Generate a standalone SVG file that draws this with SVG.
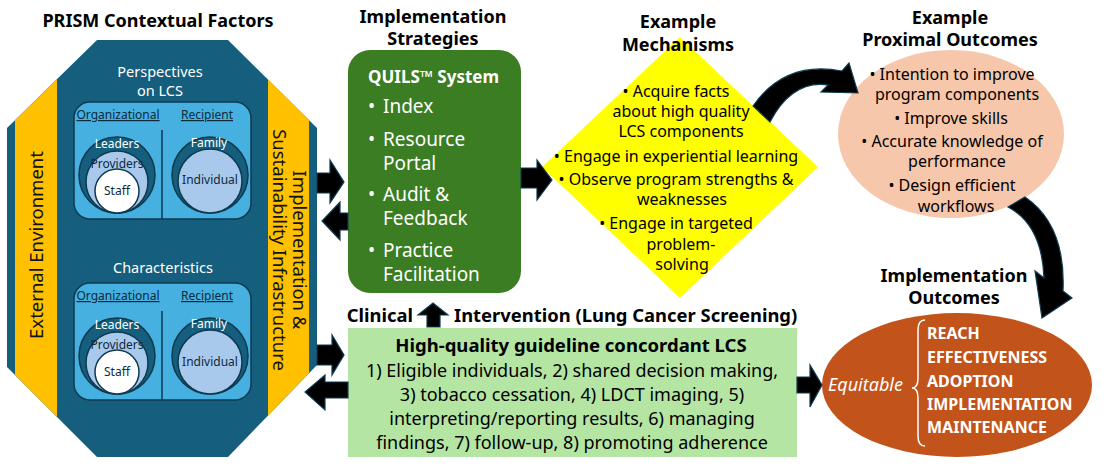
<svg xmlns="http://www.w3.org/2000/svg" width="1110" height="474" viewBox="0 0 1110 474">
<style>
text{font-family:"Noto Sans","Liberation Sans",sans-serif;}
.t{font-weight:bold;font-size:18px;fill:#000;text-anchor:middle;}
.w{fill:#fff;}
.sm{font-size:12px;text-anchor:middle;}
.dk{fill:#0d2a3a;}
.u{text-decoration:underline;}
.hd{font-size:14.5px;fill:#fff;text-anchor:middle;}
.rot{font-size:18.5px;fill:#111;text-anchor:middle;}
.box{fill:#46b0e1;stroke:#0e3a50;stroke-width:1.5;}
.cd{fill:#165e7d;stroke:#0e3a50;stroke-width:1.5;}
.cl{fill:#a9c9ec;stroke:#0e3a50;stroke-width:1.5;}
.cw{fill:#fff;stroke:#0e3a50;stroke-width:1.5;}
.div{stroke:#0e3a50;stroke-width:1.5;}
.gi{font-size:19px;fill:#fff;}
.mt{font-size:16px;fill:#000;text-anchor:middle;}
.lt{font-size:18px;fill:#000;text-anchor:middle;}
.oi{font-size:16px;font-weight:bold;fill:#fff;}
.arrow{fill:#000;stroke:#0f3d52;stroke-width:1.2;stroke-linejoin:miter;}
</style>
<defs>
<clipPath id="oct"><polygon points="97,40 228,40 317,128 317,365 228,457 97,457 7,367 7,128"/></clipPath>
</defs>

<rect width="1110" height="474" fill="#fff"/>

<g id="prism">
<text class="t" x="158" y="27">PRISM Contextual Factors</text>
<polygon points="97,40 228,40 317,128 317,365 228,457 97,457 7,367 7,128" fill="#165e7d"/>
<g clip-path="url(#oct)">
<rect x="15" y="0" width="42" height="474" fill="#ffc000"/>
<rect x="268" y="0" width="41" height="474" fill="#ffc000"/>
</g>
<text class="rot" transform="translate(43,245) rotate(-90)">External Environment</text>
<text class="rot" transform="translate(273,250) rotate(90)"><tspan x="0" y="-20">Implementation &amp;</tspan><tspan x="0" y="0">Sustainability Infrastructure</tspan></text>
</g>

<g id="perspectives">
<text class="hd" x="160" y="77" font-size="14">Perspectives</text>
<text class="hd" x="160" y="96" font-size="14">on LCS</text>
<rect class="box" x="74" y="102" width="177" height="117" rx="16"/>
<line class="div" x1="162" y1="130" x2="162" y2="219"/>
<text class="sm dk u" x="118" y="119">Organizational</text>
<text class="sm dk u" x="207" y="119">Recipient</text>
<circle class="cd" cx="117" cy="175" r="38"/>
<circle class="cl" cx="117" cy="182" r="31"/>
<circle class="cw" cx="117" cy="191" r="22"/>
<circle class="cd" cx="210" cy="175" r="38"/>
<circle class="cl" cx="210" cy="181" r="32"/>
<text class="sm w" x="117" y="148">Leaders</text>
<text class="sm dk" x="117" y="168">Providers</text>
<text class="sm dk" x="117" y="195">Staff</text>
<text class="sm w" x="209" y="147">Family</text>
<text class="sm dk" x="210" y="184">Individual</text>
</g>

<g id="characteristics">
<text class="hd" x="163" y="273">Characteristics</text>
<rect class="box" x="74" y="283" width="177" height="117" rx="16"/>
<line class="div" x1="162" y1="311" x2="162" y2="400"/>
<text class="sm dk u" x="118" y="300">Organizational</text>
<text class="sm dk u" x="207" y="300">Recipient</text>
<circle class="cd" cx="117" cy="356" r="38"/>
<circle class="cl" cx="117" cy="363" r="31"/>
<circle class="cw" cx="117" cy="372" r="22"/>
<circle class="cd" cx="210" cy="356" r="38"/>
<circle class="cl" cx="210" cy="362" r="32"/>
<text class="sm w" x="117" y="329">Leaders</text>
<text class="sm dk" x="117" y="349">Providers</text>
<text class="sm dk" x="117" y="376">Staff</text>
<text class="sm w" x="209" y="328">Family</text>
<text class="sm dk" x="210" y="366">Individual</text>
</g>

<g id="strategies">
<text class="t" x="433" y="23">Implementation</text>
<text class="t" x="433" y="45">Strategies</text>
<rect x="348" y="50" width="173" height="243" rx="22" fill="#3b7d23"/>
<text x="368" y="83" font-size="17" font-weight="bold" fill="#fff">QUILS™ System</text>
<g class="gi">
<text x="368" y="113">•</text><text x="383" y="113">Index</text>
<text x="368" y="146">•</text><text x="383" y="146">Resource</text>
<text x="383" y="170">Portal</text>
<text x="368" y="201">•</text><text x="383" y="201">Audit &amp;</text>
<text x="383" y="225">Feedback</text>
<text x="368" y="257">•</text><text x="383" y="257">Practice</text>
<text x="383" y="281">Facilitation</text>
</g>
</g>

<g id="mechanisms">
<polygon points="680,37 818,167 680,298 542,167" fill="#ffff00"/>
<text class="t" x="678" y="28">Example</text>
<text class="t" x="678" y="51">Mechanisms</text>
<text class="mt" x="676" y="97">• Acquire facts</text>
<text class="mt" x="681" y="117">about high quality</text>
<text class="mt" x="681" y="137">LCS components</text>
<text class="mt" x="676" y="162">• Engage in experiential learning</text>
<text class="mt" x="676" y="185">• Observe program strengths &amp;</text>
<text class="mt" x="682" y="205">weaknesses</text>
<text class="mt" x="676" y="229">• Engage in targeted</text>
<text class="mt" x="681" y="250">problem-</text>
<text class="mt" x="682" y="270">solving</text>
</g>

<g id="proximal">
<text class="t" x="950" y="24">Example</text>
<text class="t" x="950" y="46">Proximal Outcomes</text>
<ellipse cx="951" cy="134" rx="113" ry="84" fill="#f7c7ab"/>
<text class="mt" x="952" y="80">• Intention to improve</text>
<text class="mt" x="957" y="100">program components</text>
<text class="mt" x="951" y="124">• Improve skills</text>
<text class="mt" x="952" y="147">• Accurate knowledge of</text>
<text class="mt" x="957" y="167">performance</text>
<text class="mt" x="952" y="191">• Design efficient</text>
<text class="mt" x="956" y="212">workflows</text>
</g>

<g id="intervention">
<text x="413" y="322" font-size="18.4" font-weight="bold" text-anchor="end">Clinical</text>
<text x="454" y="322" font-size="18.4" font-weight="bold">Intervention (Lung Cancer Screening)</text>
<rect x="348" y="328" width="449" height="129" fill="#b5e5a3"/>
<text x="571" y="352" font-size="18.5" font-weight="bold" text-anchor="middle">High-quality guideline concordant LCS</text>
<text class="lt" x="572" y="377">1) Eligible individuals, 2) shared decision making,</text>
<text class="lt" x="572" y="401">3) tobacco cessation, 4) LDCT imaging, 5)</text>
<text class="lt" x="572" y="425">interpreting/reporting results, 6) managing</text>
<text class="lt" x="572" y="449">findings, 7) follow-up, 8) promoting adherence</text>
</g>

<g id="outcomes">
<text class="t" x="954" y="282">Implementation</text>
<text class="t" x="954" y="304">Outcomes</text>
<ellipse cx="957" cy="385" rx="135" ry="72" fill="#c1531b"/>
<text x="828" y="391" font-size="18" font-style="italic" fill="#fff">Equitable</text>
<path d="M925,320 Q918,320 918,330 L918,378 Q918,388 912,388 Q918,388 918,398 L918,436 Q918,446 925,446" fill="none" stroke="#fff" stroke-width="1.5"/>
<text class="oi" x="927" y="339">REACH</text>
<text class="oi" x="927" y="363">EFFECTIVENESS</text>
<text class="oi" x="927" y="387">ADOPTION</text>
<text class="oi" x="927" y="410">IMPLEMENTATION</text>
<text class="oi" x="927" y="433">MAINTENANCE</text>
</g>

<g id="connectors">
<polygon class="arrow" points="317,173 330,173 330,160 344,182 330,203 330,193 317,193"/>
<polygon class="arrow" points="348,213 340,213 340,202 322,221 340,240 340,230 348,230"/>
<polygon class="arrow" points="317,345 332,345 332,335 344,355 332,375 332,365 317,365"/>
<polygon class="arrow" points="348,382 325,382 325,375 305,392 325,410 325,398 348,398"/>
<polygon class="arrow" points="521,168 537,168 537,160 552,180 537,200 537,188 521,188"/>
<polygon class="arrow" points="427,327 427,315 418,315 433,303 448,315 440,315 440,327"/>
<polygon class="arrow" points="797,377 810,377 810,365 822,385 810,407 810,393 797,393"/>
<path class="arrow" d="M753,106 Q785,60 842,71 L849,63 L858,93 L821,92 L828,85 Q792,80 770,122 Z"/>
<path class="arrow" d="M1008,207 Q1042,225 1044,278 L1035,271 L1042,318 L1072,298 L1063,291 Q1066,225 1025,197 Z"/>
</g>
</svg>
